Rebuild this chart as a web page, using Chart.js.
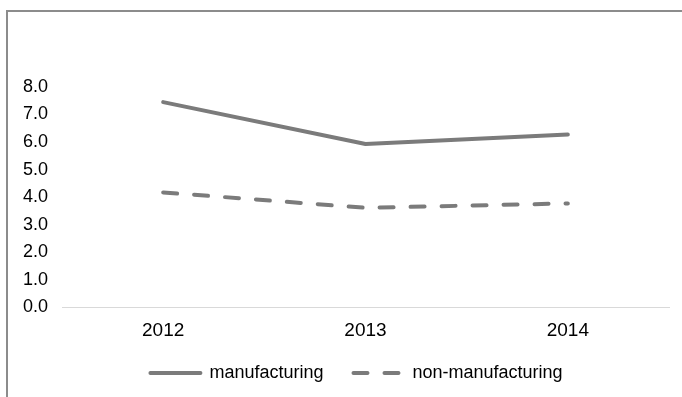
<!DOCTYPE html>
<html>
<head>
<meta charset="utf-8">
<script src="https://cdn.jsdelivr.net/npm/chart.js@4/dist/chart.umd.min.js"></script>
<style>
  html, body { margin: 0; padding: 0; background: #fff; }
  #wrap { position: relative; width: 682px; height: 397px; overflow: hidden; }
  #frame { position: absolute; left: 6px; top: 10px; width: 700px; height: 420px;
           border-top: 2px solid #8c8c8c; border-left: 2px solid #8c8c8c; box-sizing: border-box; }
  canvas { position: absolute; left: 0; top: 0; }
</style>
</head>
<body>
<div id="wrap">
  <div id="frame"></div>
  <canvas id="c" width="682" height="397"></canvas>
</div>
<script>
const categories = ["2012", "2013", "2014"];
const manufacturing = [7.45, 5.93, 6.27];
const nonManufacturing = [4.17, 3.61, 3.77];
const seriesNames = ["manufacturing", "non-manufacturing"];
const yTicks = [0, 1, 2, 3, 4, 5, 6, 7, 8];

const FONT = "'Liberation Sans', Arial, sans-serif";
const LINE = "#7b7b7b";

const shiftLegend = {
  id: "shiftLegend",
  afterLayout(chart) {
    if (chart.legend) { chart.legend.left = 44; }
  }
};

new Chart(document.getElementById("c"), {
  type: "line",
  data: {
    labels: categories,
    datasets: [
      { label: seriesNames[0], data: manufacturing, borderColor: LINE, backgroundColor: LINE,
        borderWidth: 4, pointRadius: 0, tension: 0, borderCapStyle: "round", borderJoinStyle: "round" },
      { label: seriesNames[1], data: nonManufacturing, borderColor: LINE, backgroundColor: LINE,
        borderWidth: 4, pointRadius: 0, tension: 0, borderDash: [14, 17], borderCapStyle: "round" }
    ]
  },
  plugins: [shiftLegend],
  options: {
    responsive: false,
    animation: false,
    layout: { padding: { left: 0, right: 13, top: 87, bottom: 5 } },
    plugins: {
      tooltip: { enabled: false },
      legend: {
        position: "bottom",
        labels: {
          usePointStyle: true,
          pointStyle: "line",
          pointStyleWidth: 50,
          boxHeight: 18,
          padding: 10,
          color: "#000",
          font: { family: FONT, size: 18 },
          generateLabels: (chart) => chart.data.datasets.map((ds, i) => ({
            text: ds.label + (i === 0 ? "    " : ""),
            fillStyle: ds.borderColor,
            strokeStyle: ds.borderColor,
            lineWidth: ds.borderWidth,
            lineDash: ds.borderDash || [],
            lineCap: "round",
            pointStyle: "line",
            fontColor: "#000",
            hidden: false,
            datasetIndex: i
          }))
        }
      }
    },
    scales: {
      x: {
        offset: true,
        grid: { display: false, drawTicks: false },
        border: { display: true, color: "#d9d9d9", width: 1 },
        ticks: { color: "#000", font: { family: FONT, size: 19 }, padding: 12 }
      },
      y: {
        min: 0, max: 8,
        afterFit: (s) => { s.width = 62; },
        afterBuildTicks: (s) => { s.ticks = yTicks.map((v) => ({ value: v })); },
        grid: { display: false, drawTicks: false },
        border: { display: false },
        ticks: { color: "#000", font: { family: FONT, size: 18 }, padding: 14,
                 callback: (v) => Number(v).toFixed(1) }
      }
    }
  }
});
</script>
</body>
</html>
